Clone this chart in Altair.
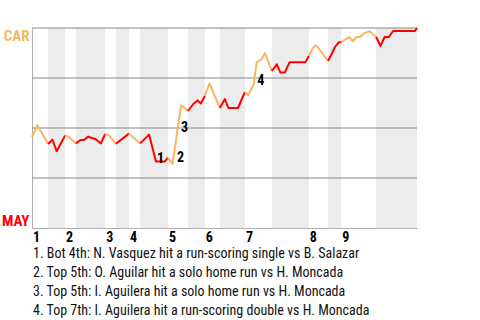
import altair as alt
import pandas as pd

ORANGE = "#f9b562"
RED = "#ff0000"
FONT = "'Roboto Condensed', 'Liberation Sans Narrow', 'DejaVu Sans Condensed', Roboto"

# half-inning boundaries on the game-progress axis (0-100)
half_bounds = [0, 4.2, 8.6, 11.4, 19.0, 21.8, 25.2, 28.1, 35.3, 40.5, 44.9,
               48.8, 55.3, 62.3, 71.9, 76.9, 80.3, 89.4, 100]
innings = [1, 2, 3, 4, 5, 6, 7, 8, 9]

# win probability for CAR (%) along game progress
prog = [0, 1.4, 4.2, 5.3, 6.4, 7.7, 8.6, 9.4, 11.4, 12.6, 13.5, 14.6, 15.5, 16.5,
        17.9, 19.0, 20.0, 21.8, 25.2, 28.1, 30.4, 32.2, 34.5, 35.3, 36.5, 37.6,
        38.7, 40.0, 40.5, 41.9, 43.0, 43.9, 44.9, 46.1, 48.8, 50.1, 51.0, 53.5,
        55.3, 56.2, 57.5, 58.4, 59.6, 60.5, 62.3, 63.6, 64.5, 65.7, 66.9, 71.0,
        71.9, 72.8, 73.6, 74.3, 76.9, 77.8, 78.7, 79.6, 80.3, 81.7, 82.5, 83.3,
        84.3, 85.2, 86.2, 87.7, 88.3, 89.4, 90.5, 91.6, 92.7, 93.8, 99.5, 100]
win_car = [45.5, 51.4, 42.0, 44.2, 38.4, 43.0, 46.2, 45.7, 42.3, 44.0, 44.0, 45.7,
           45.0, 44.5, 42.3, 47.0, 46.3, 42.1, 47.2, 42.3, 46.7, 33.2, 33.2, 35.2,
           32.0, 46.5, 61.3, 59.5, 58.5, 62.0, 63.8, 62.3, 66.0, 72.3, 60.0, 64.5,
           60.0, 60.0, 68.0, 66.5, 71.5, 83.0, 84.3, 87.5, 78.5, 81.8, 77.8, 77.8,
           82.9, 82.9, 86.0, 89.5, 91.3, 90.2, 83.5, 86.9, 90.5, 92.7, 93.0, 94.7,
           95.5, 93.4, 95.5, 95.5, 97.3, 98.4, 97.3, 95.5, 91.0, 95.5, 95.5, 98.5,
           98.5, 100.0]

grid_values = [25, 50, 75, 100]

ann_labels = ["1", "2", "3", "4"]
ann_x = [33.4, 38.6, 39.6, 59.4]
ann_y = [34.5, 34.9, 49.9, 73.5]

notes = [
    "1. Bot 4th: N. Vasquez hit a run-scoring single vs B. Salazar",
    "2. Top 5th: O. Aguilar hit a solo home run vs H. Moncada",
    "3. Top 5th: I. Aguilera hit a solo home run vs H. Moncada",
    "4. Top 7th: I. Aguilera hit a run-scoring double vs H. Moncada",
]

# ---- build tables ----
rows = []
pts_all = list(zip(prog, win_car))
for i in range(len(half_bounds) - 1):
    s, e = half_bounds[i], half_bounds[i + 1]
    half = "top" if i % 2 == 0 else "bot"
    pts = [(x, p) for x, p in pts_all if s - 1e-6 <= x <= e + 1e-6]
    prev = [(x, p) for x, p in pts_all if x < s - 1e-6]
    if prev and (not pts or pts[0][0] > s + 1e-6):
        pts = [prev[-1]] + pts
    for x, p in pts:
        rows.append({"x": x, "p": p, "seg": i, "half": half})
line_df = pd.DataFrame(rows)

stripes_df = pd.DataFrame({
    "x": half_bounds[1:-1:2],
    "x2": half_bounds[2::2],
})
innings_df = pd.DataFrame({"x": half_bounds[0:-1:2], "t": [str(i) for i in innings]})
grid_df = pd.DataFrame({"g": grid_values})
ann_df = pd.DataFrame({"x": ann_x, "p": ann_y, "t": ann_labels})
notes_df = pd.DataFrame({"t": ["\n".join(notes)]})

x_scale = alt.Scale(domain=[0, 100], nice=False, zero=False)
y_scale = alt.Scale(domain=[0, 100], nice=False)

x_axis = alt.Axis(title=None, labels=False, ticks=False, grid=False,
                  domainColor="#b0b0b0", values=[0])
y_axis = alt.Axis(title=None, values=[0, 100], ticks=False, grid=False,
                  labelExpr="datum.value == 100 ? 'CAR' : 'MAY'",
                  labelFlush=True, labelPadding=3, labelFont=FONT,
                  labelFontSize=15, labelFontWeight="bold",
                  labelColor=alt.condition("datum.value == 100", alt.value(ORANGE), alt.value(RED)),
                  domainColor="#b0b0b0")

stripes = alt.Chart(stripes_df).mark_rect(color="#ececec").encode(
    x=alt.X("x:Q", scale=x_scale, axis=x_axis),
    x2="x2:Q",
    y=alt.datum(0, scale=y_scale, axis=y_axis),
    y2=alt.datum(100),
)

grid = alt.Chart(grid_df).mark_rule(color="#888888", strokeWidth=1.2).encode(
    y=alt.Y("g:Q", scale=y_scale, axis=y_axis),
)

line = alt.Chart(line_df).mark_line(strokeWidth=2, strokeJoin="round").encode(
    x=alt.X("x:Q", scale=x_scale, axis=x_axis),
    y=alt.Y("p:Q", scale=y_scale, axis=y_axis),
    color=alt.Color("half:N", scale=alt.Scale(domain=["top", "bot"], range=[ORANGE, RED]), legend=None),
    detail="seg:N",
)

ann = alt.Chart(ann_df).mark_text(font=FONT, fontSize=14, fontWeight="bold",
                                  color="black", align="center", baseline="middle").encode(
    x=alt.X("x:Q", scale=x_scale, axis=x_axis),
    y=alt.Y("p:Q", scale=y_scale, axis=y_axis),
    text="t:N",
)

inn = alt.Chart(innings_df).mark_text(font=FONT, fontSize=14, fontWeight="bold",
                                      color="black", align="left", baseline="top", dx=1).encode(
    x=alt.X("x:Q", scale=x_scale, axis=x_axis),
    y=alt.value(203),
    text="t:N",
)

note_text = alt.Chart(notes_df).mark_text(font=FONT, fontSize=14, color="#111111",
                                          align="left", baseline="top",
                                          lineBreak="\n", lineHeight=19).encode(
    x=alt.value(1),
    y=alt.value(219),
    text="t:N",
)

chart = alt.layer(stripes, grid, line, ann, inn, note_text).properties(
    width=385, height=200,
    padding={"left": 32, "top": 28, "right": 63, "bottom": 92},
    autosize=alt.AutoSizeParams(type="none"),
).configure_view(stroke=None)

chart.save("out.html", embed_options={"renderer": "svg", "actions": False})
